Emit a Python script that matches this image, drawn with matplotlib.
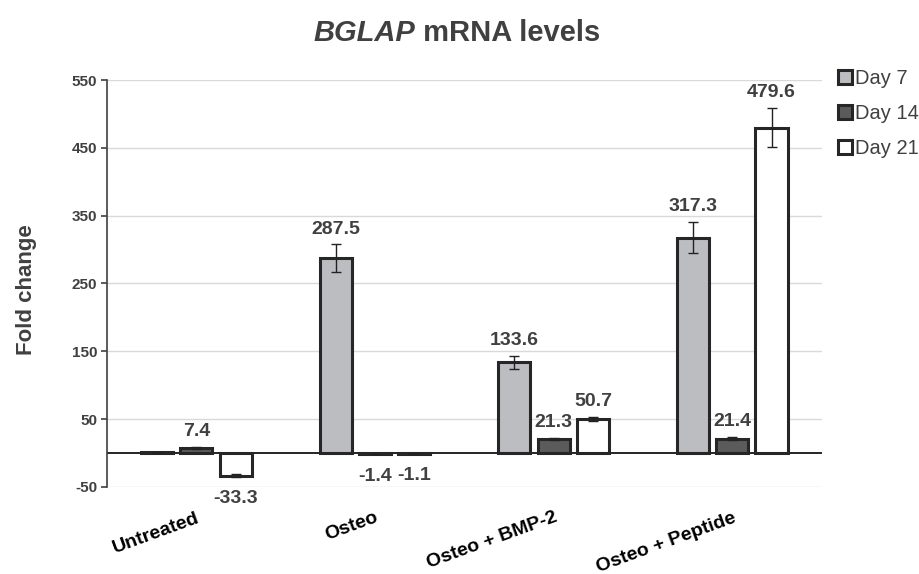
import matplotlib
matplotlib.use("Agg")
import matplotlib.pyplot as plt
import numpy as np
from matplotlib.patches import Patch

plt.rcParams['font.family'] = ['Liberation Sans', 'DejaVu Sans']
plt.rcParams['axes.unicode_minus'] = False

categories = ["Untreated", "Osteo", "Osteo + BMP-2", "Osteo + Peptide"]
series = ["Day 7", "Day 14", "Day 21"]
day7 = [1.0, 287.5, 133.6, 317.3]
day14 = [7.4, -1.4, 21.3, 21.4]
day21 = [-33.3, -1.1, 50.7, 479.6]
err7 = [0.5, 20.0, 9.5, 23.0]
err14 = [1.5, 0.5, 1.5, 2.0]
err21 = [2.0, 0.5, 3.0, 29.0]
labelled = [[False, True, True, True], [True, True, True, True], [True, True, True, True]]

colors = ["#bcbdc0", "#5b5b5b", "#ffffff"]
edge = "#262626"
text_col = "#404040"

fig = plt.figure(figsize=(9.19, 5.74), dpi=100)
ax = fig.add_axes([0.1164, 0.1516, 0.7776, 0.709])

x = np.arange(len(categories))
width = 0.18
step = 0.22
values = [day7, day14, day21]
errs = [err7, err14, err21]

ax.set_ylim(-50, 550)
ax.set_xlim(-0.5, 3.5)
ax.set_yticks(np.arange(-50, 551, 100))
ax.yaxis.grid(True, color="#d9d9d9", linewidth=1)
ax.set_axisbelow(True)
ax.axhline(0, color="black", linewidth=1.2, zorder=2)

for i, (vals, er, col) in enumerate(zip(values, errs, colors)):
    pos = x + (i - 1) * step
    ax.bar(pos, vals, width, color=col, edgecolor=edge, linewidth=2.2, zorder=3)
    ax.errorbar(pos, vals, yerr=er, fmt="none", ecolor="#222222", elinewidth=1,
                capsize=3.5, capthick=1, zorder=4)
    for j, (p, v, e) in enumerate(zip(pos, vals, er)):
        if not labelled[i][j]:
            continue
        if v >= 0:
            ax.annotate(f"{v:.1f}", (p, v + e), xytext=(0, 5), textcoords="offset points",
                        ha="center", va="bottom", fontsize=14, fontweight="bold", color=text_col)
        else:
            ax.annotate(f"{v:.1f}", (p, v - e), xytext=(0, -9.5), textcoords="offset points",
                        ha="center", va="top", fontsize=14, fontweight="bold", color=text_col)

for s in ["top", "right", "bottom"]:
    ax.spines[s].set_visible(False)
ax.spines["left"].set_color("#404040")
ax.spines["left"].set_linewidth(1.2)
ax.tick_params(axis="y", length=4, width=1.2, color="#404040", labelsize=11,
               labelcolor="#404040", pad=3)
for t in ax.get_yticklabels():
    t.set_fontweight("bold")
ax.tick_params(axis="x", length=0, pad=16)
ax.set_xticks(x)
ax.set_xticklabels(categories, rotation=20, ha="right", va="top", rotation_mode="anchor",
                   fontsize=14, fontweight="bold", color="black")
ax.set_ylabel("Fold change", fontsize=16, fontweight="bold", color="#404040")
ax.yaxis.set_label_coords(-0.098, 0.484)

# Title: italic gene symbol followed by upright text, centred as one line
renderer = fig.canvas.get_renderer()
t1 = fig.text(0, 0.942, "BGLAP", fontsize=21, fontweight="bold", fontstyle="italic",
              color="#404040", va="center", ha="left")
t2 = fig.text(0, 0.942, " mRNA levels", fontsize=21, fontweight="bold",
              color="#404040", va="center", ha="left")
w1 = t1.get_window_extent(renderer).width / fig.bbox.width
w2 = t2.get_window_extent(renderer).width / fig.bbox.width
x0 = 0.497 - (w1 + w2) / 2
t1.set_x(x0)
t2.set_x(x0 + w1)

handles = [Patch(facecolor=c, edgecolor=edge, linewidth=2.2) for c in colors]
leg = fig.legend(handles, series, loc="upper left", bbox_to_anchor=(0.903, 0.893),
                 frameon=False, fontsize=14.5, handlelength=0.7, handleheight=0.7,
                 handletextpad=0.15, labelspacing=0.78, borderaxespad=0)
for t in leg.get_texts():
    t.set_color(text_col)

fig.savefig("out.png", dpi=100)
